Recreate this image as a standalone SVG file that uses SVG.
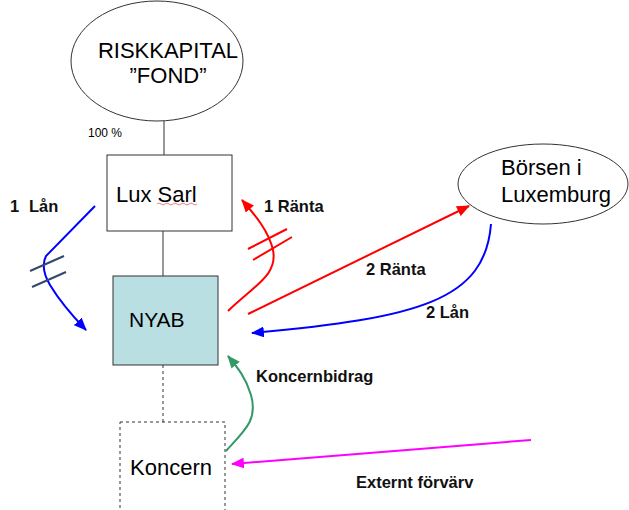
<svg xmlns="http://www.w3.org/2000/svg" width="629" height="510" viewBox="0 0 629 510">
<style>
.box{fill:#fff;stroke:#333;stroke-width:1}
.t{font-family:"Liberation Sans",Arial,sans-serif;fill:#000}
.lbl{font-family:"Liberation Sans",Arial,sans-serif;font-weight:bold;font-size:16.5px;fill:#111}
.arr{fill:none;stroke-width:2}
</style>
<defs>
<marker id="mb" viewBox="0 0 12 10" refX="11" refY="5" markerWidth="13" markerHeight="11" markerUnits="userSpaceOnUse" orient="auto"><path d="M0,0 L12,5 L0,10 z" fill="#0000ff"/></marker>
<marker id="mr" viewBox="0 0 12 10" refX="11" refY="5" markerWidth="13" markerHeight="11" markerUnits="userSpaceOnUse" orient="auto"><path d="M0,0 L12,5 L0,10 z" fill="#ff0000"/></marker>
<marker id="mg" viewBox="0 0 12 10" refX="11" refY="5" markerWidth="13" markerHeight="11" markerUnits="userSpaceOnUse" orient="auto"><path d="M0,0 L12,5 L0,10 z" fill="#339966"/></marker>
<marker id="mm" viewBox="0 0 12 10" refX="11" refY="5" markerWidth="13" markerHeight="11" markerUnits="userSpaceOnUse" orient="auto"><path d="M0,0 L12,5 L0,10 z" fill="#ff00ff"/></marker>
</defs>
<rect width="629" height="510" fill="#fff"/>
<g id="connectors">
<line x1="164" y1="121" x2="164" y2="155" stroke="#333" stroke-width="1"/>
<line x1="163" y1="231" x2="163" y2="276" stroke="#333" stroke-width="1"/>
<line x1="163" y1="365" x2="163" y2="422" stroke="#333" stroke-width="1" stroke-dasharray="3,3"/>
<path class="arr" stroke="#0000ff" d="M95,206 L46,256 Q40,268 50,285 Q62,305 86,330" marker-end="url(#mb)"/>
<line x1="30" y1="271" x2="64" y2="256" stroke="#2f4a6e" stroke-width="2"/>
<line x1="32" y1="287" x2="66" y2="272" stroke="#2f4a6e" stroke-width="2"/>
<path class="arr" stroke="#ff0000" d="M228,311 C255,285 278,275 273,250 C269,232 256,216 242,200" marker-end="url(#mr)"/>
<line x1="248" y1="249" x2="287" y2="229" stroke="#ff0000" stroke-width="2"/>
<line x1="253" y1="260" x2="292" y2="237" stroke="#ff0000" stroke-width="2"/>
<path class="arr" stroke="#ff0000" d="M248,314 L469,206" marker-end="url(#mr)"/>
<path class="arr" stroke="#0000ff" d="M491,224 C485,300 420,318 252,333" marker-end="url(#mb)"/>
<path class="arr" stroke="#339966" d="M226,451 C245,430 258,420 251,395 C246,378 238,368 228,356" marker-end="url(#mg)"/>
<path class="arr" stroke="#ff00ff" d="M531,440 L232,464" marker-end="url(#mm)"/>
</g>
<g id="fond">
<ellipse cx="157" cy="61" rx="86" ry="60" fill="#fff" stroke="#333" stroke-width="1"/>
<text class="t" x="168" y="58" font-size="22" text-anchor="middle">RISKKAPITAL</text>
<text class="t" x="168" y="83" font-size="22" text-anchor="middle">”FOND”</text>
</g>
<text class="t" x="88" y="137" font-size="12">100 %</text>
<g id="luxsarl">
<rect class="box" x="107" y="155" width="125" height="76"/>
<text class="t" x="116" y="202" font-size="22">Lux Sarl</text>
<path d="M157,204 q2,-2 4,0 t4,0 t4,0 t4,0 t4,0 t4,0 t4,0 t4,0 t4,0 t4,0" fill="none" stroke="#e06060" stroke-width="0.8"/>
</g>
<g id="nyab">
<rect x="113" y="276" width="105" height="89" fill="#badfe2" stroke="#333" stroke-width="1"/>
<text class="t" x="129" y="327" font-size="21">NYAB</text>
</g>
<g id="koncern">
<rect x="120" y="422" width="105" height="100" fill="#fff" stroke="#333" stroke-width="1" stroke-dasharray="3,3"/>
<text class="t" x="130" y="475" font-size="22">Koncern</text>
</g>
<g id="borsen">
<ellipse cx="543" cy="184" rx="85" ry="40" fill="#fff" stroke="#333" stroke-width="1"/>
<text class="t" x="501" y="175" font-size="22">Börsen i</text>
<text class="t" x="501" y="202" font-size="22">Luxemburg</text>
</g>
<g id="labels">
<text class="lbl" x="10" y="212">1<tspan x="29">Lån</tspan></text>
<text class="lbl" x="264" y="212">1 Ränta</text>
<text class="lbl" x="366" y="275">2 Ränta</text>
<text class="lbl" x="426" y="318">2 Lån</text>
<text class="lbl" x="256" y="382">Koncernbidrag</text>
<text class="lbl" x="356" y="488">Externt förvärv</text>
</g>
</svg>
